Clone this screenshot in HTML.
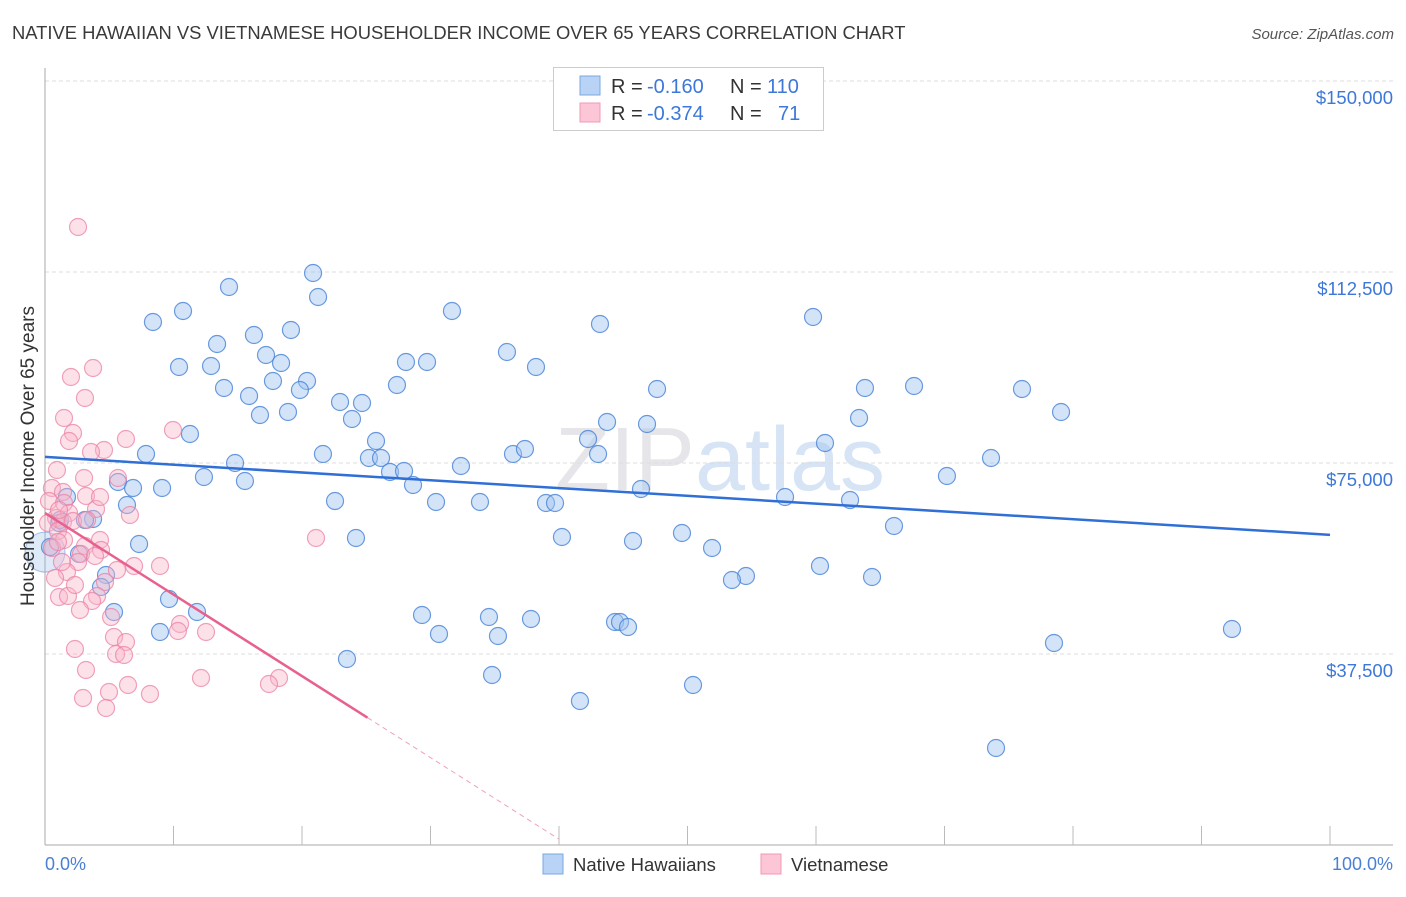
<!DOCTYPE html>
<html><head><meta charset="utf-8"><style>
body{margin:0;background:#fff;font-family:"Liberation Sans",sans-serif;}
svg text{font-family:"Liberation Sans",sans-serif;white-space:pre;}
</style></head><body>
<svg id="chart" width="1406" height="892" xmlns="http://www.w3.org/2000/svg" xml:space="preserve">
<text x="12" y="39" font-size="18.4" fill="#3a3a3a">NATIVE HAWAIIAN VS VIETNAMESE HOUSEHOLDER INCOME OVER 65 YEARS CORRELATION CHART</text>
<text x="1394" y="39" font-size="15" fill="#555" text-anchor="end" font-style="italic">Source: ZipAtlas.com</text>
<text x="720" y="490" font-size="90" fill="#e6e6ea" text-anchor="middle" font-family="Liberation Serif">ZIP<tspan fill="#d6e4f5" font-family="Liberation Sans">atlas</tspan></text>
<g id="grid"></g><g id="axes"></g><g id="pts"></g><g id="trend"></g>
<text transform="translate(34,456) rotate(-90)" font-size="19" fill="#333" text-anchor="middle">Householder Income Over 65 years</text>
<text x="45" y="870" font-size="18" fill="#4a7fd4">0.0%</text>
<text x="1393" y="870" font-size="18" fill="#4a7fd4" text-anchor="end">100.0%</text>
<g>
<rect x="553.5" y="67.5" width="270" height="63" fill="#fff" stroke="#ccc"/>
<rect x="580" y="76" width="20" height="19" fill="#b8d3f5" stroke="#7aa8e0"/>
<rect x="580" y="103" width="20" height="19" fill="#fcc6d6" stroke="#f09ab4"/>
<text x="611" y="93" font-size="20" fill="#333">R = </text><text x="647" y="93" font-size="20" fill="#3d78d8">-0.160</text>
<text x="730" y="93" font-size="20" fill="#333">N = </text><text x="767" y="93" font-size="20" fill="#3d78d8">110</text>
<text x="611" y="120" font-size="20" fill="#333">R = </text><text x="647" y="120" font-size="20" fill="#3d78d8">-0.374</text>
<text x="730" y="120" font-size="20" fill="#333">N = </text><text x="778" y="120" font-size="20" fill="#3d78d8">71</text>
</g>
<g>
<rect x="543" y="854" width="20" height="20" fill="#b8d3f5" stroke="#7aa8e0"/>
<text x="573" y="871" font-size="18.5" fill="#333">Native Hawaiians</text>
<rect x="761" y="854" width="20" height="20" fill="#fcc6d6" stroke="#f09ab4"/>
<text x="791" y="871" font-size="18.5" fill="#333">Vietnamese</text>
</g>
</svg>
<script>
const yTicks=[37500,75000,112500,150000];
const yTickLabels=["$37,500","$75,000","$112,500","$150,000"];
const bluePx=[[313,273],[229,287],[318,297],[183,311],[153,322],[291,330],[254,335],[600,324],[813,317],[452,311],[217,344],[266,355],[281,363],[179,367],[211,366],[507,352],[406,362],[427,362],[536,367],[273,381],[307,381],[224,388],[300,390],[397,385],[657,389],[865,388],[914,386],[1022,389],[249,396],[340,402],[362,403],[260,415],[288,412],[352,419],[607,422],[647,424],[859,418],[1061,412],[190,434],[376,441],[588,439],[825,443],[146,454],[323,454],[369,458],[381,458],[513,454],[525,449],[598,454],[991,458],[235,463],[461,466],[204,477],[245,481],[390,472],[404,471],[413,485],[118,482],[133,488],[162,488],[947,476],[641,489],[335,501],[436,502],[480,502],[546,503],[555,503],[785,497],[850,500],[127,505],[67,497],[93,519],[59,523],[894,526],[682,533],[356,538],[562,537],[633,541],[139,544],[712,548],[79,554],[106,575],[746,576],[732,580],[820,566],[872,577],[101,587],[169,599],[197,612],[114,612],[422,615],[489,617],[531,619],[615,622],[620,622],[628,627],[160,632],[439,634],[498,636],[1232,629],[1054,643],[347,659],[492,675],[693,685],[580,701],[996,748],[50,547],[60,520],[85,520]];
const pinkPx=[[78,227],[93,368],[71,377],[85,398],[64,418],[73,433],[69,441],[104,450],[91,452],[126,439],[173,430],[57,470],[84,478],[118,478],[52,488],[63,492],[86,496],[49,501],[64,503],[96,509],[130,515],[56,518],[69,513],[63,522],[48,523],[58,531],[100,540],[64,540],[85,546],[101,550],[52,548],[58,542],[81,554],[95,556],[105,582],[117,570],[134,566],[160,566],[78,562],[67,572],[59,597],[68,596],[97,596],[92,601],[80,610],[111,617],[180,624],[178,631],[206,632],[114,637],[126,642],[116,654],[124,655],[75,649],[86,670],[201,678],[279,678],[269,684],[128,685],[109,692],[150,694],[83,698],[106,708],[316,538],[59,510],[73,521],[87,520],[62,562],[100,497],[55,578],[75,585]];
const blueX=bluePx.map(p=>+((p[0]-45)/12.85).toFixed(2));
const blueY=bluePx.map(p=>Math.round((845-p[1])*37500/191));
const pinkX=pinkPx.map(p=>+((p[0]-45)/12.85).toFixed(2));
const pinkY=pinkPx.map(p=>Math.round((845-p[1])*37500/191));
const blueTrend=[76200,60900];
const pinkTrend=[65180,-94900];
const pinkSolidEnd=25.1, pinkDashEnd=40;
const X=p=>45+p*12.85, Y=v=>845-v*191/37500;
const NS="http://www.w3.org/2000/svg";
function mk(parent,tag,attrs){const e=document.createElementNS(NS,tag);for(const k in attrs)e.setAttribute(k,attrs[k]);document.getElementById(parent).appendChild(e);return e;}
yTicks.forEach((t,i)=>{
 const l=mk('grid','line',{x1:45,x2:1393,y1:Y(t),y2:Y(t),stroke:'#ddd','stroke-dasharray':'4,3'});
 
 
 const tx=mk('grid','text',{x:1393,y:Y(t)+23,'font-size':18.5,fill:'#3d78d8','text-anchor':'end'});
 tx.textContent=yTickLabels[i];
 
 
});
let a=mk('axes','line',{x1:45,x2:45,y1:68,y2:845,stroke:'#aaa'});


a=mk('axes','line',{x1:45,x2:1393,y1:845,y2:845,stroke:'#aaa'});


for(let i=1;i<=10;i++){const t=mk('axes','line',{x1:X(i*10),x2:X(i*10),y1:826,y2:845,stroke:'#bbb'});
 
 }
let big=mk('pts','circle',{cx:X(0),cy:Y(57500),r:20,fill:'rgba(150,185,235,0.3)',stroke:'rgba(90,140,220,0.5)'});


blueX.forEach((x,i)=>{const c=mk('pts','circle',{cx:X(x),cy:Y(blueY[i]),r:8.5,fill:'rgba(160,195,240,0.45)',stroke:'rgba(70,130,215,0.8)','stroke-width':1.2});
 
 });
pinkX.forEach((x,i)=>{const c=mk('pts','circle',{cx:X(x),cy:Y(pinkY[i]),r:8.5,fill:'rgba(250,180,200,0.4)',stroke:'rgba(235,130,165,0.75)','stroke-width':1.2});
 
 });
const pv=p=>pinkTrend[0]+(pinkTrend[1]-pinkTrend[0])*p/100;
let t=mk('trend','line',{x1:X(0),y1:Y(blueTrend[0]),x2:X(100),y2:Y(blueTrend[1]),stroke:'#2f6fd6','stroke-width':2.5});


t=mk('trend','line',{x1:X(0),y1:Y(pv(0)),x2:X(pinkSolidEnd),y2:Y(pv(pinkSolidEnd)),stroke:'#e8608e','stroke-width':2.5});


t=mk('trend','line',{x1:X(pinkSolidEnd),y1:Y(pv(pinkSolidEnd)),x2:X(pinkDashEnd),y2:Y(pv(pinkDashEnd)),stroke:'#f0a0b8','stroke-width':1,'stroke-dasharray':'5,4'});


</script>
</body></html>
